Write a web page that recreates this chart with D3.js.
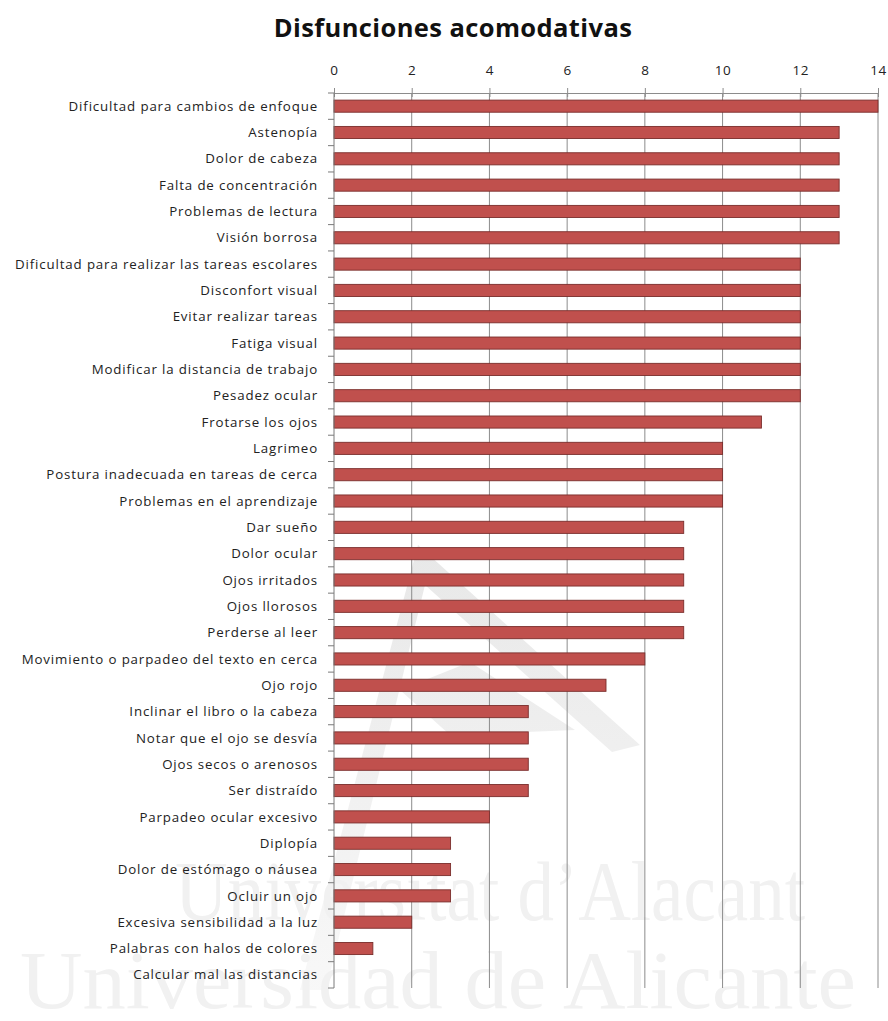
<!DOCTYPE html>
<html>
<head>
<meta charset="utf-8">
<script src="https://cdn.jsdelivr.net/npm/d3@7"></script>
<style>
  html, body { margin: 0; padding: 0; background: #ffffff; }
  svg { display: block; }
</style>
</head>
<body>
<svg id="chart" width="888" height="1021"></svg>
<script>
// Symptoms reported, in display order (top to bottom)
const categories = [
  "Dificultad para cambios de enfoque",
  "Astenopía",
  "Dolor de cabeza",
  "Falta de concentración",
  "Problemas de lectura",
  "Visión borrosa",
  "Dificultad para realizar las tareas escolares",
  "Disconfort visual",
  "Evitar realizar tareas",
  "Fatiga visual",
  "Modificar la distancia de trabajo",
  "Pesadez ocular",
  "Frotarse los ojos",
  "Lagrimeo",
  "Postura inadecuada en tareas de cerca",
  "Problemas en el aprendizaje",
  "Dar sueño",
  "Dolor ocular",
  "Ojos irritados",
  "Ojos llorosos",
  "Perderse al leer",
  "Movimiento o parpadeo del texto en cerca",
  "Ojo rojo",
  "Inclinar el libro o la cabeza",
  "Notar que el ojo se desvía",
  "Ojos secos o arenosos",
  "Ser distraído",
  "Parpadeo ocular excesivo",
  "Diplopía",
  "Dolor de estómago o náusea",
  "Ocluir un ojo",
  "Excesiva sensibilidad a la luz",
  "Palabras con halos de colores",
  "Calcular mal las distancias"
];

// Number of mentions for each symptom
const values = [
  14, 13, 13, 13, 13, 13,
  12, 12, 12, 12, 12, 12,
  11, 10, 10, 10,
  9, 9, 9, 9, 9,
  8, 7,
  5, 5, 5, 5,
  4, 3, 3, 3, 2, 1, 0
];

const xTicks = [0, 2, 4, 6, 8, 10, 12, 14];
const title = "Disfunciones acomodativas";
const watermarkLines = ["Universitat d\u2019Alacant", "Universidad de Alicante"];

const data = categories.map((c, i) => ({ name: c, value: values[i] }));

const svg = d3.select("#chart");
const W = 888, H = 1021;
const margin = { top: 93, right: 10, bottom: 33, left: 334 };
const plotRight = 878;
const plotBottom = H - margin.bottom;

const labelFont = "'Open Sans', 'Noto Sans', sans-serif";

// Faint background watermark: emblem and institution name
const defs = svg.append("defs");
const grad = defs.append("linearGradient")
  .attr("id", "emblemFade")
  .attr("x1", "0").attr("y1", "0").attr("x2", "0").attr("y2", "1");
grad.append("stop").attr("offset", "0%").attr("stop-color", "#e2e2e2");
grad.append("stop").attr("offset", "100%").attr("stop-color", "#f6f6f6");

const wm = svg.append("g").attr("class", "watermark");
wm.append("path")
  .attr("d", "M300,990 L418,545 L640,745 L612,752 L425,585 L326,990 Z M400,690 L470,662 L575,730 L450,735 Z")
  .attr("fill", "url(#emblemFade)")
  .attr("opacity", 0.8);
wm.append("text")
  .attr("x", 490).attr("y", 920)
  .attr("text-anchor", "middle")
  .attr("font-family", "'Liberation Serif', 'DejaVu Serif', serif")
  .attr("font-size", 84)
  .attr("fill", "#f1f1f1")
  .attr("textLength", 630)
  .attr("lengthAdjust", "spacingAndGlyphs")
  .text(watermarkLines[0]);
wm.append("text")
  .attr("x", 438).attr("y", 1008)
  .attr("text-anchor", "middle")
  .attr("font-family", "'Liberation Serif', 'DejaVu Serif', serif")
  .attr("font-size", 82)
  .attr("fill", "#f1f1f1")
  .attr("textLength", 836)
  .attr("lengthAdjust", "spacingAndGlyphs")
  .text(watermarkLines[1]);

// Scales
const x = d3.scaleLinear().domain([0, 14]).range([margin.left, plotRight]);
const y = d3.scaleBand().domain(categories).range([margin.top, plotBottom]).paddingInner(0.54).paddingOuter(0.27);
const yb = d3.scaleBand().domain(categories).range([margin.top, plotBottom]);

// Title
svg.append("text")
  .attr("x", 453).attr("y", 37)
  .attr("text-anchor", "middle")
  .attr("font-family", labelFont)
  .attr("font-weight", "bold")
  .attr("font-size", 25.5)
  .attr("letter-spacing", 0.4)
  .attr("fill", "#111")
  .text(title);

// Vertical gridlines
svg.append("g")
  .selectAll("line")
  .data(xTicks.filter(t => t > 0))
  .join("line")
  .attr("x1", d => x(d)).attr("x2", d => x(d))
  .attr("y1", margin.top).attr("y2", plotBottom)
  .attr("stroke", "#8c8c8c")
  .attr("stroke-width", 1);

// Top value axis
const xAxis = svg.append("g")
  .attr("transform", `translate(0,${margin.top})`)
  .call(d3.axisTop(x).tickValues(xTicks).tickSize(5).tickPadding(13));
xAxis.select(".domain").attr("stroke", "#8c8c8c");
xAxis.selectAll(".tick line").attr("stroke", "#8c8c8c").attr("y2", -5).attr("y1", 4);
xAxis.selectAll(".tick text")
  .attr("font-family", labelFont)
  .attr("font-size", 13.5)
  .attr("letter-spacing", 0.6)
  .attr("fill", "#222");

// Bars
svg.append("g")
  .selectAll("rect")
  .data(data)
  .join("rect")
  .attr("x", x(0))
  .attr("y", d => y(d.name))
  .attr("width", d => x(d.value) - x(0))
  .attr("height", y.bandwidth())
  .attr("fill", "#c0504d")
  .attr("stroke", d => d.value > 0 ? "#7a2e2c" : "none")
  .attr("stroke-width", 0.9);

// Category axis (left) with boundary ticks
const yAxisG = svg.append("g");
yAxisG.append("line")
  .attr("x1", x(0)).attr("x2", x(0))
  .attr("y1", margin.top).attr("y2", plotBottom)
  .attr("stroke", "#7a7a7a");
const boundaries = categories.map(c => yb(c)).concat([plotBottom]);
yAxisG.selectAll("line.b")
  .data(boundaries)
  .join("line")
  .attr("class", "b")
  .attr("x1", x(0) - 6).attr("x2", x(0))
  .attr("y1", d => d).attr("y2", d => d)
  .attr("stroke", "#7a7a7a");
yAxisG.selectAll("text")
  .data(categories)
  .join("text")
  .attr("x", 318)
  .attr("y", d => yb(d) + yb.bandwidth() / 2)
  .attr("dy", "0.35em")
  .attr("text-anchor", "end")
  .attr("font-family", labelFont)
  .attr("font-size", 13.3)
  .attr("letter-spacing", 0.85)
  .attr("fill", "#222")
  .text(d => d);
</script>
</body>
</html>
